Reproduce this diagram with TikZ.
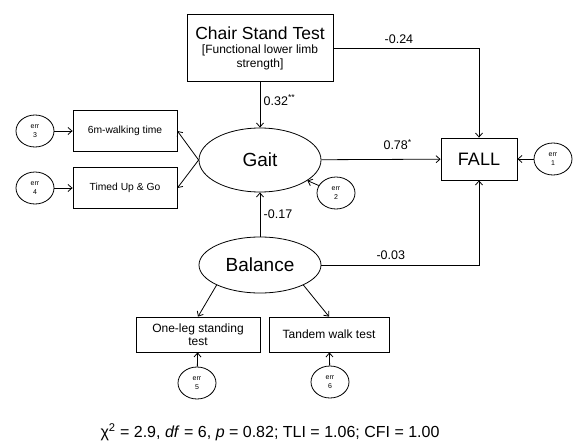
\documentclass[tikz,border=0pt]{standalone}
\usepackage{fontspec}
\setmainfont{Liberation Sans}
\usetikzlibrary{arrows.meta, shapes.geometric}

\tikzset{
  every box/.style={draw, rectangle, align=center, inner sep=1pt, font=\fontsize{10.3}{12}\selectfont},
  latent/.style={draw, ellipse, inner sep=0pt, font=\fontsize{19}{21}\selectfont},
  err/.style={draw, ellipse, inner sep=0pt, minimum width=38pt, minimum height=32pt, align=center, font=\fontsize{7}{9}\selectfont},
  coef/.style={font=\fontsize{12.5}{14}\selectfont}
}

\begin{document}
\begin{tikzpicture}[x=1pt, y=-1pt, >={Straight Barb[length=4pt, width=7pt]}, line width=0.8pt]

\useasboundingbox (0,0) rectangle (578,442);

% observed variables
\node [every box, minimum width=146pt, minimum height=67pt, font=\fontsize{12}{14}\selectfont] (chair) at (260,48)
  {{\fontsize{17.5}{19}\selectfont Chair Stand Test}\\[0pt][Functional lower limb\\ strength]};
\node [every box, minimum width=104pt, minimum height=41pt] (walk) at (125,131) {6m-walking time};
\node [every box, minimum width=104pt, minimum height=41pt] (tug) at (125,188) {Timed Up \& Go};
\node [every box, minimum width=76pt, minimum height=42pt, font=\fontsize{18}{20}\selectfont] (fall) at (479,159) {FALL};
\node [every box, minimum width=124pt, minimum height=35pt, font=\fontsize{12}{13}\selectfont] (oneleg) at (198,334.5) {One-leg standing\\ test};
\node [every box, minimum width=120pt, minimum height=35pt, font=\fontsize{12}{13}\selectfont] (tandem) at (329,334.5) {Tandem walk test};

% latent variables
\node [latent, minimum width=122pt, minimum height=64pt] (gait) at (260,160) {Gait};
\node [latent, minimum width=122pt, minimum height=56pt] (balance) at (260,265) {Balance};

% error terms
\foreach \n/\x/\y in {1/553/159, 2/336/193, 3/35/131, 4/35/188, 5/197/383, 6/330/382}
  \node [err] (err-\n) at (\x,\y) {err\\ \n};

% paths
\draw [->] (chair) -- (gait) node [coef, pos=0.4, right] {0.32\textsuperscript{**}};
\draw [->] (gait) -- (fall) node [coef, pos=0.64, above=6pt] {0.78\textsuperscript{*}};
\draw [->] (chair.east) -| (fall.north) node [coef, pos=0.225, above=1pt] {-0.24};
\draw [->] (balance.east) -| (fall.south) node [coef, pos=0.22, above=2pt] {-0.03};
\draw [->] (balance) -- (gait) node [coef, midway, right] {-0.17};
\draw [->] (gait.west) -- (walk.east);
\draw [->] (gait.west) -- (tug.east);
\draw [->] (balance.south west) -- (oneleg.north);
\draw [->] (balance.south east) -- (tandem.north);

\draw [->] (err-1) -- (fall);
\draw [->] (err-2) -- (gait);
\draw [->] (err-3) -- (walk);
\draw [->] (err-4) -- (tug);
\draw [->] (err-5) -- (oneleg);
\draw [->] (err-6) -- (tandem);

% fit indices
\node [font=\fontsize{16}{18}\selectfont] (fit) at (270,432)
  {χ\textsuperscript{2} = 2.9, \textit{df} = 6, \textit{p} = 0.82; TLI = 1.06; CFI = 1.00};

\end{tikzpicture}
\end{document}
